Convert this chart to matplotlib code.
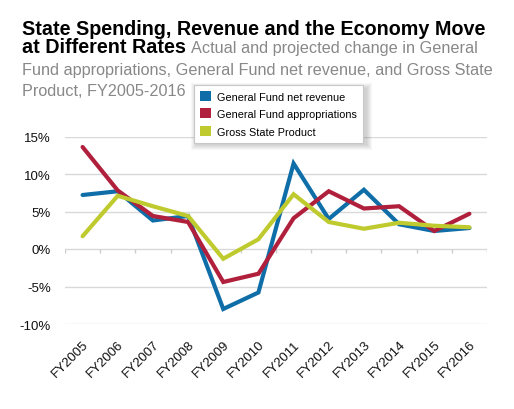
import matplotlib
matplotlib.use("Agg")
import matplotlib.pyplot as plt
from matplotlib.patches import Patch, Rectangle

plt.rcParams['font.family'] = ['Liberation Sans', 'DejaVu Sans']

years = ["FY2005", "FY2006", "FY2007", "FY2008", "FY2009", "FY2010",
         "FY2011", "FY2012", "FY2013", "FY2014", "FY2015", "FY2016"]
net_revenue = [7.2, 7.7, 3.8, 4.4, -8.0, -5.8, 11.4, 4.0, 7.9, 3.3, 2.4, 2.8]
appropriations = [13.6, 7.8, 4.4, 3.6, -4.4, -3.3, 4.1, 7.7, 5.4, 5.7, 2.4, 4.7]
gsp = [1.7, 7.1, 5.7, 4.4, -1.3, 1.3, 7.3, 3.6, 2.7, 3.5, 3.1, 2.9]
series_names = ["General Fund net revenue", "General Fund appropriations", "Gross State Product"]
y_ticks = [-10, -5, 0, 5, 10, 15]

colors = ["#0f6ea8", "#b01f3b", "#bfca2e"]

W, H = 514, 410
fig = plt.figure(figsize=(W / 100, H / 100), dpi=100)
fig.patch.set_facecolor("white")

def fx(px):
    return px / W

def fy(py):
    return 1 - py / H

ax = fig.add_axes([fx(65), fy(325), fx(487) - fx(65), fy(137.5) - fy(325)])
ax.set_facecolor("white")
for s in ax.spines.values():
    s.set_visible(False)

x = list(range(len(years)))
ax.set_xlim(-0.5, len(years) - 0.5)
ax.set_ylim(-10, 15)

for yv in y_ticks:
    ax.axhline(yv, color="#d9d9d9", lw=1.0, zorder=1)
# category boundary ticks on the zero line
bounds = [i - 0.5 for i in range(len(years) + 1)]
ax.vlines(bounds, -0.55, 0, color="#cccccc", lw=1.0, zorder=1)

for vals, c in zip([net_revenue, appropriations, gsp], colors):
    ax.plot(x, vals, color=c, lw=3.0, solid_capstyle="round", solid_joinstyle="miter", zorder=3)

ax.set_yticks(y_ticks)
ax.set_yticklabels([f"{v}%" for v in y_ticks], fontsize=9.5, color="#111111")
ax.tick_params(axis="y", length=0, pad=10)
ax.set_xticks(x)
ax.set_xticklabels(years, rotation=45, ha="right", rotation_mode="anchor",
                   fontsize=9.5, color="#111111")
ax.tick_params(axis="x", length=0, pad=10)

# Title
fig.text(fx(22.5), fy(35), "State Spending, Revenue and the Economy Move",
         fontsize=14.2, fontweight="bold", color="black", va="baseline", ha="left")
t2 = fig.text(fx(22.5), fy(53.3), "at Different Rates",
              fontsize=14.2, fontweight="bold", color="black", va="baseline", ha="left")
fig.canvas.draw()
bb = t2.get_window_extent(renderer=fig.canvas.get_renderer())
sub_color = "#888888"
sub_fs = 11.7
fig.text(fx(bb.x1 + 5), fy(53.3), "Actual and projected change in General",
         fontsize=sub_fs, color=sub_color, va="baseline", ha="left")
fig.text(fx(22.5), fy(75), "Fund appropriations, General Fund net revenue, and Gross State",
         fontsize=sub_fs, color=sub_color, va="baseline", ha="left")
fig.text(fx(22.5), fy(96.5), "Product, FY2005-2016",
         fontsize=sub_fs, color=sub_color, va="baseline", ha="left")

# Legend soft shadow
lx0, ly0, lx1, ly1 = 194, 86, 363, 143
for i in range(6):
    off = i
    r = Rectangle((fx(lx0 + 2 - off), fy(ly1 + 3 + off)),
                  fx(lx1 - lx0 + 2 * off + 2), fy(0) - fy(ly1 - ly0 + 2 * off),
                  transform=fig.transFigure, facecolor="black", alpha=0.03,
                  edgecolor="none", zorder=4)
    fig.patches.append(r)

handles = [Patch(facecolor=c, edgecolor="none") for c in colors]
leg = fig.legend(handles, series_names, loc="upper left",
                 bbox_to_anchor=(fx(lx0), fy(ly0)),
                 fontsize=7.8, frameon=True, fancybox=False, shadow=False,
                 framealpha=1.0, facecolor="white",
                 handlelength=1.05, handleheight=1.05, handletextpad=0.55,
                 labelspacing=0.62, borderpad=0.55, borderaxespad=0.0)
leg.get_frame().set_edgecolor("#c8c8c8")
leg.get_frame().set_linewidth(0.8)
leg.set_zorder(5)

fig.savefig("out.png", dpi=100, facecolor="white")
